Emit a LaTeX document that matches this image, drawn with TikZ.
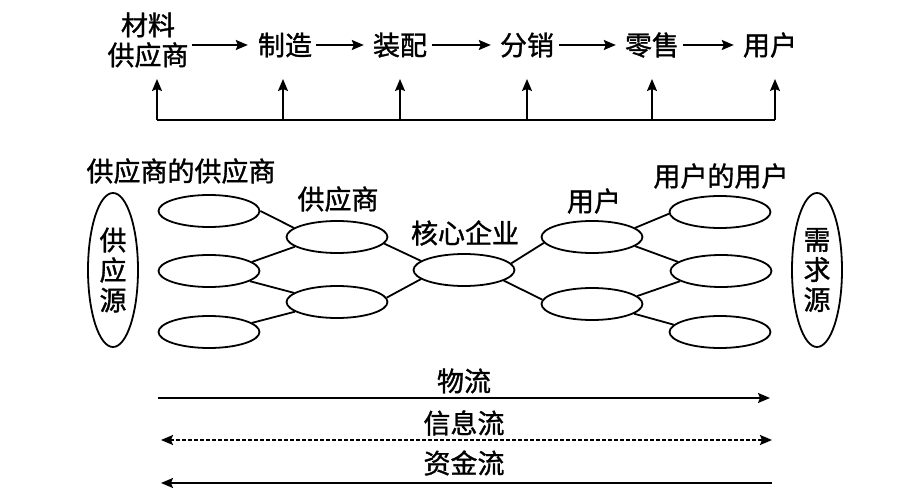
\documentclass[tikz,border=0pt]{standalone}
\usepackage{fontspec}
\newfontfamily\cjk[FakeBold=1.2]{Noto Sans CJK SC}
\usetikzlibrary{shapes.geometric,arrows.meta}
\begin{document}
\begin{tikzpicture}[x=1pt,y=-1pt,
  lbl/.style={font=\cjk\fontsize{27}{27}\selectfont, inner sep=2pt, align=center},
  toplbl/.style={lbl, inner xsep=3pt},
  ell/.style={draw, ellipse, line width=1.8pt, minimum width=101pt, minimum height=32pt, inner sep=0pt},
  bigell/.style={draw, ellipse, line width=1.8pt, minimum width=50pt, minimum height=154pt, inner sep=0pt, align=center, font=\cjk\fontsize{27}{30}\selectfont},
  conn/.style={line width=1.8pt},
  arr/.style={line width=1.8pt, -{Stealth[length=12pt,width=10pt,inset=2pt]}},
  darr/.style={line width=1.8pt, {Stealth[length=12pt,width=10pt,inset=2pt]}-{Stealth[length=12pt,width=10pt,inset=2pt]}, dash pattern=on 4pt off 2pt}
]
\useasboundingbox (0,0) rectangle (906,500);
\fill[white] (0,0) rectangle (906,500);

% top chain
\node[toplbl, font=\cjk\fontsize{27}{30}\selectfont] (ms) at (148,40) {材料\\供应商};
\node[toplbl] (mfg) at (285,45) {制造};
\node[toplbl] (asm) at (400,45) {装配};
\node[toplbl] (dist) at (527,45) {分销};
\node[toplbl] (ret) at (652,45) {零售};
\node[toplbl] (usr) at (770,45) {用户};
\draw[arr, shorten >=7pt] (ms.east |- mfg.west) -- (mfg.west);
\draw[arr, shorten >=6pt, shorten <=1pt] (mfg) -- (asm);
\draw[arr, shorten >=6pt, shorten <=2pt] (asm) -- (dist);
\draw[arr, shorten >=6pt, shorten <=2pt] (dist) -- (ret);
\draw[arr, shorten >=6pt, shorten <=1pt] (ret) -- (usr);

\coordinate (v1) at (157,120);
\coordinate (v2) at (283,120);
\coordinate (v3) at (400,120);
\coordinate (v4) at (527,120);
\coordinate (v5) at (652,120);
\coordinate (v6) at (775,120);
\coordinate (t1) at (157,79);
\coordinate (t2) at (283,79);
\coordinate (t3) at (400,79);
\coordinate (t4) at (527,79);
\coordinate (t5) at (652,79);
\coordinate (t6) at (775,79);
\draw[conn] (v1) -- (v6);
\foreach \i in {1,...,6} { \draw[arr] (v\i) -- (t\i); }

% network
\node[lbl] (lss) at (181,171) {供应商的供应商};
\node[lbl] (lsup) at (338,199) {供应商};
\node[lbl] (lcore) at (465,233) {核心企业};
\node[lbl] (lusr) at (594,201) {用户};
\node[lbl] (luu) at (721,176) {用户的用户};

\node[bigell] (src) at (113,270) {供\\应\\源};
\node[bigell] (dem) at (817,270) {需\\求\\源};

\node[ell] (l1) at (209,211) {};
\node[ell] (l2) at (209,271) {};
\node[ell] (l3) at (209,332) {};
\node[ell] (m1) at (337,237) {};
\node[ell] (m2) at (337,302) {};
\node[ell] (c) at (464,270) {};
\node[ell] (r1) at (592,237) {};
\node[ell] (r2) at (592,304) {};
\node[ell] (rr1) at (720,212) {};
\node[ell] (rr2) at (721,271) {};
\node[ell] (rr3) at (720,332) {};

\draw[conn] (l1.0) -- (m1.168);
\draw[conn] (l2.12) -- (m1.193);
\draw[conn] (l2.-14) -- (m2.168);
\draw[conn] (l3.12) -- (m2.193);
\draw[conn] (m1.-8) -- (c.168);
\draw[conn] (m2.5) -- (c.192);
\draw[conn] (c.8) -- (r1.187);
\draw[conn] (c.-15) -- (r2.175);
\draw[conn] (r1.12) -- (rr1.182);
\draw[conn] (r1.-12) -- (rr2.168);
\draw[conn] (r2.10) -- (rr2.194);
\draw[conn] (r2.-13) -- (rr3.171);

% flows
\node[lbl] (wl) at (464,381) {物流};
\node[lbl] (xxl) at (464,423) {信息流};
\node[lbl] (zjl) at (464,463) {资金流};
\coordinate (a1) at (158,398);
\coordinate (b1) at (770,398);
\coordinate (a2) at (161,440);
\coordinate (b2) at (772,440);
\coordinate (a3) at (161,483);
\coordinate (b3) at (772,483);
\draw[arr] (a1) -- (b1);
\draw[darr] (a2) -- (b2);
\draw[arr] (b3) -- (a3);
\end{tikzpicture}
\end{document}
